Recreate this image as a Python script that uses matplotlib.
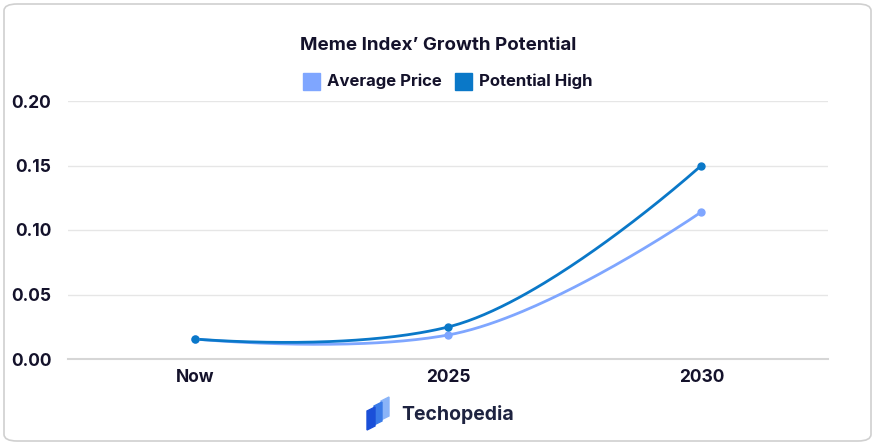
import numpy as np
import matplotlib
matplotlib.use("Agg")
import matplotlib.pyplot as plt
from matplotlib.patches import FancyBboxPatch, Rectangle, Polygon

categories = ["Now", "2025", "2030"]
average_price = [0.0155, 0.0186, 0.114]
potential_high = [0.0155, 0.0248, 0.150]
yticks = [0.00, 0.05, 0.10, 0.15, 0.20]

W, H = 875, 445
fig = plt.figure(figsize=(W/100, H/100), dpi=100)
fig.patch.set_facecolor("white")
box = FancyBboxPatch((4/W, 4/H), 867/W, 437/H, boxstyle="round,pad=0,rounding_size=0.015",
                     transform=fig.transFigure, fc="white", ec="#d0d0d0", lw=1.2, zorder=-10)
fig.patches.append(box)
ax = fig.add_axes([68/W, 1-359/H, 760/W, 258/H])
ax.set_facecolor("none")

def smooth(xs, ys, d=0.4, k=0.72, n=80):
    """Highcharts-like spline: end controls at the end points, interior tangent from neighbours."""
    xs = np.asarray(xs, float); ys = np.asarray(ys, float)
    N = len(xs)
    left = [(xs[0], ys[0])] * N
    right = [(xs[-1], ys[-1])] * N
    for j in range(N):
        if 0 < j < N-1:
            m = k*(ys[j+1]-ys[j-1])/(xs[j+1]-xs[j-1])
            left[j] = (xs[j]-d*(xs[j]-xs[j-1]), ys[j]-m*d*(xs[j]-xs[j-1]))
            right[j] = (xs[j]+d*(xs[j+1]-xs[j]), ys[j]+m*d*(xs[j+1]-xs[j]))
        else:
            left[j] = right[j] = (xs[j], ys[j])
    tt = np.linspace(0, 1, n)
    b = lambda a0, a1, a2, a3: (1-tt)**3*a0+3*(1-tt)**2*tt*a1+3*(1-tt)*tt**2*a2+tt**3*a3
    px, py = [], []
    for i in range(N-1):
        c1, c2 = right[i], left[i+1]
        px += list(b(xs[i], c1[0], c2[0], xs[i+1])); py += list(b(ys[i], c1[1], c2[1], ys[i+1]))
    return px, py

x = np.arange(len(categories))
for vals, col in [(average_price, "#7fa6ff"), (potential_high, "#0a78c8")]:
    px, py = smooth(x, vals)
    ax.plot(px, py, color=col, lw=2, zorder=3)
    ax.plot(x, vals, "o", color=col, ms=5, zorder=4)

ax.set_xlim(-0.5, 2.5)
ax.set_ylim(0, 0.2)
ax.set_xticks(x, categories)
ax.set_yticks(yticks, [f"{v:.2f}" for v in yticks])
ax.grid(axis="y", color="#e6e6e6", lw=1)
ax.set_axisbelow(True)
for s in ["top", "right", "left"]:
    ax.spines[s].set_visible(False)
ax.spines["bottom"].set_color("#d6d6d6"); ax.spines["bottom"].set_linewidth(1.5)
ax.tick_params(length=0, labelsize=12.5, colors="#14122b")
ax.tick_params(axis="x", pad=7)
for lab in ax.get_xticklabels() + ax.get_yticklabels():
    lab.set_fontweight("bold"); lab.set_fontfamily("Inter")
ax.tick_params(axis="y", pad=12)

fig.text(438/W, 1-45/H, "Meme Index’ Growth Potential", ha="center", va="center",
         fontsize=13.5, fontweight="bold", family="Inter", color="#14122b")
for lx, col, lab in [(303, "#7fa6ff", "Average Price"), (455, "#0a78c8", "Potential High")]:
    fig.add_artist(Rectangle((lx/W, 1-90/H), 17/W, 17/H, transform=fig.transFigure, color=col))
    fig.text((lx+24)/W, 1-81/H, lab, ha="left", va="center", fontsize=12, fontweight="bold",
             family="Inter", color="#14122b")
# logo: three slanted blocks
for kk, col in [(2, "#8ab4f8"), (1, "#3a7be8"), (0, "#1a4fd8")]:
    x0 = 367 + kk*7; top = 411 - kk*5
    pts = [(x0, top), (x0+8, top-4), (x0+8, top+15), (x0, top+19)]
    fig.add_artist(Polygon([(a/W, 1-c/H) for a, c in pts], closed=True,
                           transform=fig.transFigure, color=col))
fig.text(401/W, 1-415/H, "Techopedia", ha="left", va="center", fontsize=14, fontweight="bold",
         family="Inter", color="#1e2340")
fig.savefig("out.png", dpi=100)
